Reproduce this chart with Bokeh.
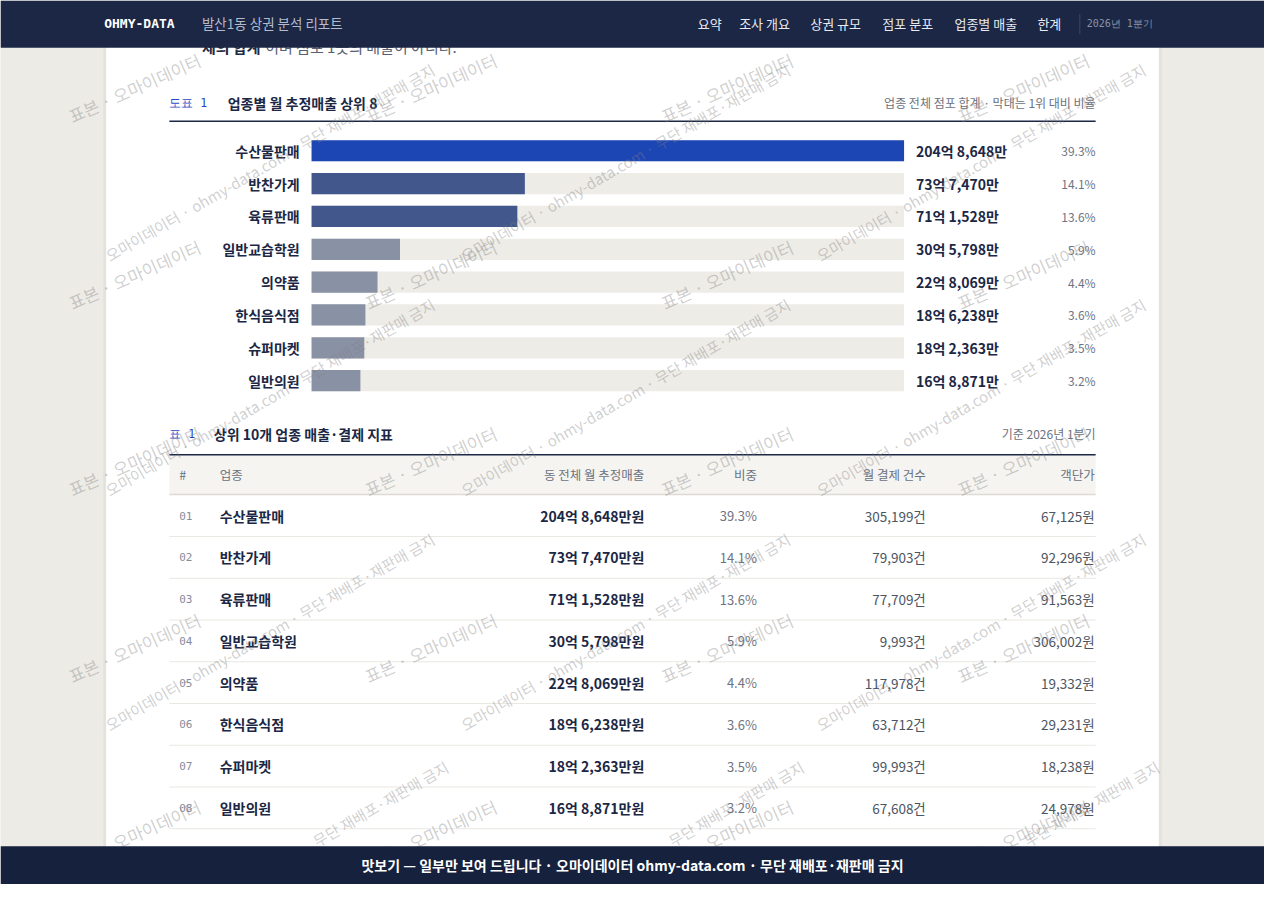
import math
from bokeh.plotting import figure
from bokeh.models import Range1d
from bokeh.embed import file_html
from bokeh.resources import INLINE
from bokeh.core.properties import value

# ---------------- data ----------------
categories = ["수산물판매", "반찬가게", "육류판매", "일반교습학원", "의약품", "한식음식점", "슈퍼마켓", "일반의원"]
sales_manwon = [2048648, 737470, 711528, 305798, 228069, 186238, 182363, 168871]   # 월 추정매출 (만원)
share_pct = [39.3, 14.1, 13.6, 5.9, 4.4, 3.6, 3.5, 3.2]
pay_counts = [305199, 79903, 77709, 9993, 117978, 63712, 99993, 67608]
unit_price = [67125, 92296, 91563, 306002, 19332, 29231, 18238, 24978]
row_numbers = ["01", "02", "03", "04", "05", "06", "07", "08"]
nav_items = ["요약", "조사 개요", "상권 규모", "점포 분포", "업종별 매출", "한계"]

def fmt_sales(v, suffix="만"):
    return f"{v // 10000}억 {v % 10000:,}{suffix}"

sales_labels = [fmt_sales(v) for v in sales_manwon]
sales_labels_won = [fmt_sales(v, "만원") for v in sales_manwon]
share_labels = [f"{s:.1f}%" for s in share_pct]
count_labels = [f"{c:,}건" for c in pay_counts]
price_labels = [f"{p:,}원" for p in unit_price]
ranks = list(range(len(categories)))
vmax = max(sales_manwon)

# ---------------- styles ----------------
FONT = value("Noto Sans CJK KR")
MONO = value("DejaVu Sans Mono")
NAVY = "#1B2744"
FOOT = "#16213D"
BG = "#EDEBE6"
GRAY = "#6B7280"
DARK = "#4B5563"
BLUE = "#1E4BC4"

def bar_color(i):
    if i == 0:
        return "#1D46B5"
    if i < 3:
        return "#42588D"
    return "#8991A5"

bar_colors = [bar_color(i) for i in ranks]

# ---------------- figure (page pixel space 1280 x 900) ----------------
X0, X1, Y0, Y1 = 0, 1280, 900, 0
p = figure(width=1264, height=884, x_range=Range1d(X0, X1), y_range=Range1d(Y0, Y1),
           output_backend="svg", toolbar_location=None, min_border=0,
           x_axis_location=None, y_axis_location=None,
           background_fill_color=BG, border_fill_color=BG, outline_line_color=None)
p.grid.visible = False

def px_range(lo_px, hi_px, anchor_px, step_px):
    return Range1d(start=(lo_px - anchor_px) / step_px, end=(hi_px - anchor_px) / step_px)

# value scale for bars: 0 -> x=315, max -> x=915
p.extra_x_ranges = {"val": px_range(X0, X1, 315, 600 / vmax)}
# rank scale for bars and row scale for table
p.extra_y_ranges = {"rank": px_range(Y0, Y1, 153, 33.43),
                    "row": px_range(Y0, Y1, 524.5, 42.5)}

# card
p.quad(left=[104], right=[1176], top=[0], bottom=[900], fill_color="#000000", fill_alpha=0.035, line_color=None)
p.quad(left=[107], right=[1173], top=[0], bottom=[900], fill_color="white", line_color=None)

# cut-off paragraph under the header
p.text(x=[204], y=[47], text=["체의 합계"], text_font=FONT, text_font_size="15px",
       text_font_style="bold", text_color="#1F2A44", text_baseline="middle")
p.text(x=[268], y=[47], text=["이며 점포 1곳의 매출이 아니다."], text_font=FONT, text_font_size="15px",
       text_color="#5A6070", text_baseline="middle")

# ---------------- chart 1 ----------------
p.text(x=[171], y=[104], text=["도표 1"], text_font=MONO, text_font_size="11.5px",
       text_color=BLUE, text_baseline="middle")
p.text(x=[230], y=[104], text=["업종별 월 추정매출 상위 8"], text_font=FONT, text_font_size="14px",
       text_font_style="bold", text_color=NAVY, text_baseline="middle")
p.text(x=[1109], y=[104], text=["업종 전체 점포 합계 · 막대는 1위 대비 비율"], text_font=FONT,
       text_font_size="12px", text_color=GRAY, text_align="right", text_baseline="middle")
p.segment(x0=[171], x1=[1109], y0=[123], y1=[123], line_color=NAVY, line_width=1.5)

p.hbar(y=ranks, left=0, right=[vmax] * len(ranks), height=0.645, fill_color="#EEECE7",
       line_color=None, x_range_name="val", y_range_name="rank")
p.hbar(y=ranks, left=0, right=sales_manwon, height=0.645, fill_color=bar_colors,
       line_color=None, x_range_name="val", y_range_name="rank")
p.text(x=[303] * len(ranks), y=ranks, text=categories, text_font=FONT, text_font_size="14px",
       text_font_style="bold", text_color=NAVY, text_align="right", text_baseline="middle",
       y_range_name="rank")
p.text(x=[927] * len(ranks), y=ranks, text=sales_labels, text_font=FONT, text_font_size="14px",
       text_font_style="bold", text_color=NAVY, text_baseline="middle", y_range_name="rank")
p.text(x=[1109] * len(ranks), y=ranks, text=share_labels, text_font=FONT, text_font_size="12px",
       text_color="#6E7485", text_align="right", text_baseline="middle", y_range_name="rank")

# ---------------- table 1 ----------------
p.text(x=[171], y=[441], text=["표 1"], text_font=MONO, text_font_size="11.5px",
       text_color=BLUE, text_baseline="middle")
p.text(x=[216], y=[441], text=["상위 10개 업종 매출·결제 지표"], text_font=FONT, text_font_size="14px",
       text_font_style="bold", text_color=NAVY, text_baseline="middle")
p.text(x=[1109], y=[441], text=["기준 2026년 1분기"], text_font=FONT, text_font_size="12px",
       text_color=GRAY, text_align="right", text_baseline="middle")
p.quad(left=[171], right=[1109], top=[463], bottom=[503], fill_color="#F5F4F0", line_color=None)
p.segment(x0=[171], x1=[1109], y0=[462.5], y1=[462.5], line_color=NAVY, line_width=1.5)
p.segment(x0=[171], x1=[1109], y0=[503], y1=[503], line_color="#DEDBD4", line_width=1.5)

p.text(x=[181, 222], y=[483, 483], text=["#", "업종"], text_font=FONT, text_font_size="12.5px",
       text_color=GRAY, text_baseline="middle")
p.text(x=[652, 766, 937, 1108], y=[483] * 4, text=["동 전체 월 추정매출", "비중", "월 결제 건수", "객단가"],
       text_font=FONT, text_font_size="12.5px", text_color=GRAY, text_align="right", text_baseline="middle")

sep = [r + 0.5 for r in ranks]
p.segment(x0=[171] * len(sep), x1=[1109] * len(sep), y0=sep, y1=sep, line_color="#E9E7E2",
          line_width=1, y_range_name="row")
p.text(x=[181] * len(ranks), y=ranks, text=row_numbers, text_font=MONO, text_font_size="11px",
       text_color="#858B9B", text_baseline="middle", y_range_name="row")
p.text(x=[222] * len(ranks), y=ranks, text=categories, text_font=FONT, text_font_size="14px",
       text_font_style="bold", text_color=NAVY, text_baseline="middle", y_range_name="row")
p.text(x=[652] * len(ranks), y=ranks, text=sales_labels_won, text_font=FONT, text_font_size="14px",
       text_font_style="bold", text_color=NAVY, text_align="right", text_baseline="middle",
       y_range_name="row")
p.text(x=[766] * len(ranks), y=ranks, text=share_labels, text_font=FONT, text_font_size="13px",
       text_color="#6E7485", text_align="right", text_baseline="middle", y_range_name="row")
p.text(x=[937] * len(ranks), y=ranks, text=count_labels, text_font=FONT, text_font_size="13.5px",
       text_color=DARK, text_align="right", text_baseline="middle", y_range_name="row")
p.text(x=[1108] * len(ranks), y=ranks, text=price_labels, text_font=FONT, text_font_size="13.5px",
       text_color=DARK, text_align="right", text_baseline="middle", y_range_name="row")

# ---------------- watermarks ----------------
WM_BIG = "표본 · 오마이데이터"
WM_SMALL = "오마이데이터 · ohmy-data.com · 무단 재배포·재판매 금지"
WM_TAIL = "무단 재배포·재판매 금지"
wm_big_x, wm_big_y = [], []
for gx in range(4):
    for gy in range(5):
        wm_big_x.append(75 + 300 * gx)
        wm_big_y.append(130 + 190 * gy)
p.text(x=wm_big_x, y=wm_big_y, text=[WM_BIG] * len(wm_big_x), angle=math.radians(24),
       text_font=FONT, text_font_size="17px", text_color="#808080", text_alpha=0.38,
       text_baseline="bottom")
wm_small_x, wm_small_y = [], []
for gx in range(3):
    for gy in range(1, 4):
        wm_small_x.append(113 + 360 * gx)
        wm_small_y.append(31 + 239 * gy)
p.text(x=wm_small_x, y=wm_small_y, text=[WM_SMALL] * len(wm_small_x),
       angle=math.radians(30), text_font=FONT, text_font_size="15px", text_color="#808080",
       text_alpha=0.38, text_baseline="bottom")
# last row: only the tail of the string shows above the footer
tail_x = [113 + 360 * gx + 210 for gx in range(3)]
tail_y = [31 + 239 * 4 - 121] * 3
p.text(x=tail_x, y=tail_y, text=[WM_TAIL] * 3, angle=math.radians(30), text_font=FONT,
       text_font_size="15px", text_color="#808080", text_alpha=0.38, text_baseline="bottom")

# ---------------- header ----------------
p.quad(left=[0], right=[1280], top=[0], bottom=[48], fill_color=NAVY, line_color=None)
p.text(x=[105], y=[23], text=["OHMY-DATA"], text_font=MONO, text_font_size="13px",
       text_font_style="bold", text_color="white", text_baseline="middle")
p.text(x=[204], y=[23], text=["발산1동 상권 분석 리포트"], text_font=FONT, text_font_size="13.5px",
       text_color="#B4BCCC", text_baseline="middle")
p.text(x=[706, 748, 820, 893, 966, 1050], y=[23] * 6, text=nav_items, text_font=FONT,
       text_font_size="13px", text_color="#E8EBF2", text_baseline="middle")
p.segment(x0=[1093], x1=[1093], y0=[14], y1=[34], line_color="#3E4963", line_width=1)
p.text(x=[1100], y=[23], text=["2026년 1분기"], text_font=MONO, text_font_size="10px",
       text_color="#8A93A8", text_baseline="middle")

# ---------------- footer ----------------
p.quad(left=[0], right=[1280], top=[861], bottom=[900], fill_color=FOOT, line_color=None)
p.text(x=[640], y=[880.5], text=["맛보기 — 일부만 보여 드립니다 · 오마이데이터 ohmy-data.com · 무단 재배포·재판매 금지"],
       text_font=FONT, text_font_size="14px", text_font_style="bold", text_color="white",
       text_align="center", text_baseline="middle")

open("out.html", "w").write(file_html(p, INLINE))
